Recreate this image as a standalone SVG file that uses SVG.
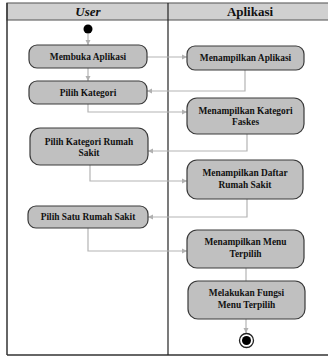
<svg xmlns="http://www.w3.org/2000/svg" width="328" height="358" viewBox="0 0 328 358">
<defs>
<marker id="arr" markerWidth="6" markerHeight="6" refX="5" refY="3" orient="auto" markerUnits="userSpaceOnUse">
<path d="M0,0.5 L5,3 L0,5.5 Z" fill="#b0b0b0"/>
</marker>
<style>
.node rect{fill:#c0c0c0;stroke:#3a3a3a;stroke-width:1.2}
.node text{font-family:"Liberation Serif",serif;font-weight:bold;font-size:9.4px;fill:#111;text-anchor:middle}
.conn path{fill:none;stroke:#b4b4b4;stroke-width:1.2}
.hdr{font-family:"Liberation Serif",serif;font-weight:bold;font-size:13px;fill:#111;text-anchor:middle}
</style>
</defs>
<rect width="328" height="358" fill="#fff"/>
<g id="frame">
<rect x="7" y="3" width="330" height="17" fill="#d0d0d0" stroke="#6a6a6a" stroke-width="1.2"/>
<line x1="7" y1="3" x2="7" y2="355" stroke="#333" stroke-width="1.5"/>
<line x1="7" y1="355" x2="328" y2="355" stroke="#333" stroke-width="1.5"/>
<line x1="168" y1="3" x2="168" y2="355" stroke="#222" stroke-width="1.2"/>
<text class="hdr" x="88" y="16" font-style="italic">User</text>
<text class="hdr" x="250" y="16">Aplikasi</text>
</g>
<g class="conn" id="connectors">
<path d="M88,34 V45" marker-end="url(#arr)"/>
<path d="M88,68 V81" marker-end="url(#arr)"/>
<path d="M147,57 H187" marker-end="url(#arr)"/>
<path d="M245,70 V91 H147" marker-end="url(#arr)"/>
<path d="M88,104 V112 H187" marker-end="url(#arr)"/>
<path d="M247,134 V151 H148" marker-end="url(#arr)"/>
<path d="M90,165 V181 H187" marker-end="url(#arr)"/>
<path d="M247,199 V217 H148" marker-end="url(#arr)"/>
<path d="M88,228 V251 H187" marker-end="url(#arr)"/>
<path d="M246,268 V281"/>
<path d="M246,319 V333" marker-end="url(#arr)"/>
</g>
<g id="start"><circle cx="88" cy="29" r="4.5" fill="#000"/></g>
<g class="node" id="n1"><rect x="29" y="45" width="118" height="23" rx="8"/><text x="88" y="60">Membuka Aplikasi</text></g>
<g class="node" id="n2"><rect x="29" y="81" width="118" height="23" rx="8"/><text x="88" y="96">Pilih Kategori</text></g>
<g class="node" id="n3"><rect x="187" y="46" width="117" height="24" rx="8"/><text x="245.5" y="61">Menampilkan Aplikasi</text></g>
<g class="node" id="n4"><rect x="187" y="98" width="117" height="36" rx="10"/><text x="245.5" y="114">Menampilkan Kategori</text><text x="245.5" y="125">Faskes</text></g>
<g class="node" id="n5"><rect x="30" y="128" width="118" height="37" rx="10"/><text x="89" y="145">Pilih Kategori Rumah</text><text x="89" y="156">Sakit</text></g>
<g class="node" id="n6"><rect x="187" y="160" width="116" height="39" rx="10"/><text x="245" y="176">Menampilkan Daftar</text><text x="245" y="188">Rumah Sakit</text></g>
<g class="node" id="n7"><rect x="28" y="206" width="120" height="22" rx="8"/><text x="88" y="220">Pilih Satu Rumah Sakit</text></g>
<g class="node" id="n8"><rect x="187" y="230" width="117" height="38" rx="10"/><text x="245.5" y="245">Menampilkan Menu</text><text x="245.5" y="257">Terpilih</text></g>
<g class="node" id="n9"><rect x="188" y="281" width="117" height="38" rx="10"/><text x="246.5" y="296">Melakukan Fungsi</text><text x="246.5" y="308">Menu Terpilih</text></g>
<g id="end"><circle cx="246.5" cy="340.5" r="7" fill="#fff" stroke="#222" stroke-width="1.3"/><circle cx="246.5" cy="340.5" r="4.5" fill="#000"/></g>
</svg>
